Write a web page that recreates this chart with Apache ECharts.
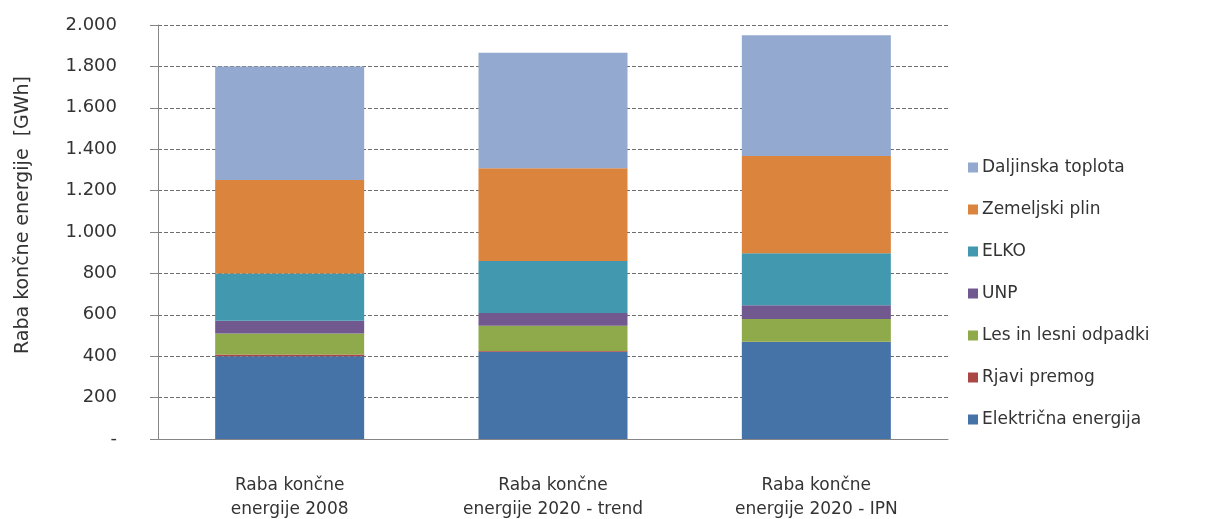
<!DOCTYPE html>
<html><head><meta charset="utf-8">
<script src="https://cdn.jsdelivr.net/npm/echarts@6/dist/echarts.min.js"></script>
<style>html,body{margin:0;padding:0;background:#fff}#c{width:1210px;height:519px}</style>
</head><body><div id="c"></div>
<script>
const categories = ["Raba končne\nenergije 2008", "Raba končne\nenergije 2020 - trend", "Raba končne\nenergije 2020 - IPN"];
const seriesNames = ["Električna energija", "Rjavi premog", "Les in lesni odpadki", "UNP", "ELKO", "Zemeljski plin", "Daljinska toplota"];
const elektricna = [400, 422, 468];
const rjavi = [8, 3, 2];
const les = [102, 122, 110];
const unp = [61, 62, 66];
const elko = [229, 251, 251];
const plin = [451, 448, 470];
const daljinska = [549, 558, 583];
const yTicks = [0, 200, 400, 600, 800, 1000, 1200, 1400, 1600, 1800, 2000];
const yName = "Raba končne energije  [GWh]";
const colors = ["#4572A7", "#AA4643", "#8FAA4B", "#71588F", "#4198AF", "#DB843D", "#93A9CF"];
const values = [elektricna, rjavi, les, unp, elko, plin, daljinska];
const font = "'DejaVu Sans', sans-serif";
function fmt(v){ if(v===0) return "-"; return String(v).replace(/\B(?=(\d{3})+(?!\d))/g, "."); }
const chart = echarts.init(document.getElementById('c'));
chart.setOption({
  animation:false,
  color: colors,
  textStyle:{fontFamily:font},
  grid:{left:158, top:25, width:790, height:414, containLabel:false, outerBoundsMode:'none'},
  legend:{
    orient:'vertical', left:963, top:152, itemWidth:10, itemHeight:10, itemGap:21,
    icon:'rect',
    data: seriesNames.slice().reverse(),
    textStyle:{fontSize:17, color:'#333', fontFamily:font, padding:[0,0,0,-1], lineHeight:21}
  },
  xAxis:{
    type:'category', data:categories,
    axisLine:{lineStyle:{color:'#868686'}},
    axisTick:{show:false},
    axisLabel:{fontSize:17, color:'#333', lineHeight:24, margin:35, fontFamily:font}
  },
  yAxis:{
    type:'value', min:yTicks[0], max:yTicks[yTicks.length-1], interval:yTicks[1]-yTicks[0],
    name:yName, nameLocation:'middle', nameGap:125, nameRotate:90,
    nameTextStyle:{fontSize:19, color:'#333', fontFamily:font, padding:[0,0,0,34]},
    axisLine:{show:true, lineStyle:{color:'#868686'}},
    axisTick:{show:true, length:8, lineStyle:{color:'#868686'}},
    axisLabel:{fontSize:18, color:'#333', margin:41, formatter:fmt, fontFamily:font},
    splitLine:{lineStyle:{color:'#6e6e6e', type:[4,2], width:1}}
  },
  series: seriesNames.map((n,i)=>({
    name:n, type:'bar', stack:'total', data:values[i], barWidth:149,
    itemStyle:{color:colors[i]}
  }))
});
</script></body></html>
